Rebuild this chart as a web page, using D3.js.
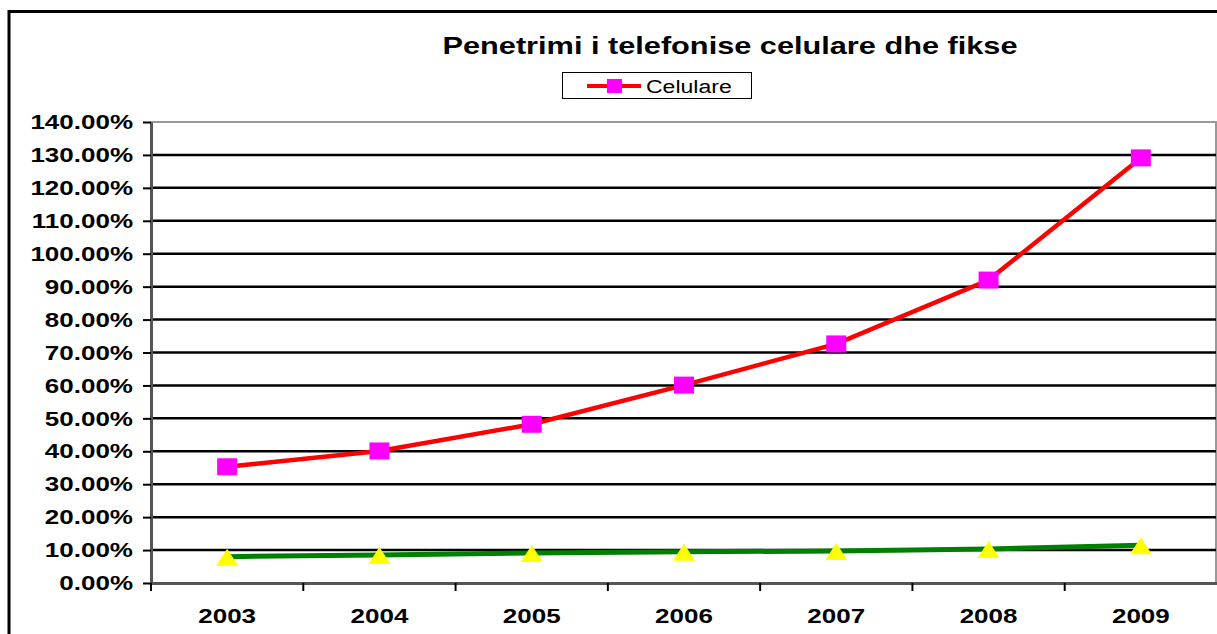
<!DOCTYPE html>
<html>
 <head>
    <title>Penetrimi i telefonise</title>
    <script src="https://d3js.org/d3.v7.min.js"></script>
    <style>
      body { margin: 0; background: #fff; }
      text { font-family: "Liberation Sans", Arial, sans-serif; fill: #000; }
    </style>
 </head>
 <body>
    <div id="chart"></div>
    <script>
      // data
      var years = ["2003", "2004", "2005", "2006", "2007", "2008", "2009"];
      var celulare = [35.3, 40.1, 48.2, 60.1, 72.6, 92.0, 129.1];
      var fikse = [8.0, 8.5, 9.1, 9.5, 9.7, 10.3, 11.5];
      var yTicks = [0, 10, 20, 30, 40, 50, 60, 70, 80, 90, 100, 110, 120, 130, 140];
      var title = "Penetrimi i telefonise celulare dhe fikse";
      var legendLabel = "Celulare";

      var width = 1217, height = 634;
      var plotLeft = 151, plotRight = 1217, plotTop = 122, plotBottom = 583;
      var stretch = 1.3; // the original text is wider than normal

      var svg = d3.select("#chart").append("svg")
        .attr("width", width)
        .attr("height", height);

      var x = d3.scaleBand().domain(years).range([plotLeft, plotRight]);
      var y = d3.scaleLinear().domain([0, 140]).range([plotBottom, plotTop]);

      // outer frame (only top and left show)
      svg.append("path")
        .attr("d", "M9," + height + "V11.5H" + width)
        .attr("fill", "none")
        .attr("stroke", "#000")
        .attr("stroke-width", 3);

      // plot frame
      svg.append("path")
        .attr("d", "M" + plotLeft + "," + plotTop + "H" + (plotRight - 1) + "V" + plotBottom)
        .attr("fill", "none")
        .attr("stroke", "#999")
        .attr("stroke-width", 2);

      // gridlines
      svg.selectAll(".grid")
        .data(yTicks.filter(function (d) { return d > 0 && d < 140; }))
        .enter().append("line")
        .attr("x1", plotLeft).attr("x2", plotRight - 1)
        .attr("y1", function (d) { return y(d); })
        .attr("y2", function (d) { return y(d); })
        .attr("stroke", "#000")
        .attr("stroke-width", 2.5);

      // y axis
      var yAxis = svg.append("g")
        .attr("transform", "translate(" + plotLeft + ",0)")
        .call(d3.axisLeft(y).tickValues(yTicks).tickSize(8).tickSizeOuter(0).tickFormat(""));
      yAxis.select(".domain").attr("stroke", "#555").attr("stroke-width", 3);
      yAxis.selectAll(".tick line").attr("stroke", "#000").attr("stroke-width", 2);

      svg.selectAll(".ylab")
        .data(yTicks)
        .enter().append("text")
        .attr("transform", function (d) {
          return "translate(133," + y(d) + ") scale(" + stretch + ",1)";
        })
        .attr("dy", "0.36em")
        .attr("text-anchor", "end")
        .style("font-size", "20px")
        .style("font-weight", "bold")
        .text(function (d) { return d.toFixed(2) + "%"; });

      // x axis
      var xAxis = svg.append("g")
        .attr("transform", "translate(0," + plotBottom + ")")
        .call(d3.axisBottom(x).tickSize(0).tickFormat(""));
      xAxis.select(".domain").attr("stroke", "#555").attr("stroke-width", 3);

      svg.selectAll(".xtick")
        .data(years)
        .enter().append("line")
        .attr("x1", function (d) { return x(d); })
        .attr("x2", function (d) { return x(d); })
        .attr("y1", plotBottom).attr("y2", plotBottom + 8)
        .attr("stroke", "#000")
        .attr("stroke-width", 2);

      svg.selectAll(".xlab")
        .data(years)
        .enter().append("text")
        .attr("transform", function (d) {
          return "translate(" + (x(d) + x.bandwidth() / 2) + ",623) scale(" + stretch + ",1)";
        })
        .attr("text-anchor", "middle")
        .style("font-size", "20px")
        .style("font-weight", "bold")
        .text(function (d) { return d; });

      var cx = function (d, i) { return x(years[i]) + x.bandwidth() / 2; };

      // fikse series
      var lineF = d3.line()
        .x(function (d, i) { return cx(d, i); })
        .y(function (d) { return y(d); });
      svg.append("path")
        .datum(fikse)
        .attr("d", lineF)
        .attr("fill", "none")
        .attr("stroke", "#008000")
        .attr("stroke-width", 5);
      svg.selectAll(".tri")
        .data(fikse)
        .enter().append("path")
        .attr("d", "M0,-8L11,9L-11,9Z")
        .attr("transform", function (d, i) { return "translate(" + cx(d, i) + "," + y(d) + ")"; })
        .attr("fill", "#ffff00");

      // celulare series
      var lineC = d3.line()
        .x(function (d, i) { return cx(d, i); })
        .y(function (d) { return y(d); });
      svg.append("path")
        .datum(celulare)
        .attr("d", lineC)
        .attr("fill", "none")
        .attr("stroke", "#ff0000")
        .attr("stroke-width", 4.5);
      svg.selectAll(".sq")
        .data(celulare)
        .enter().append("rect")
        .attr("x", function (d, i) { return cx(d, i) - 10; })
        .attr("y", function (d) { return y(d) - 8.5; })
        .attr("width", 20)
        .attr("height", 17)
        .attr("fill", "#ff00ff");

      // title
      svg.append("text")
        .attr("transform", "translate(730,54) scale(1.28,1)")
        .attr("text-anchor", "middle")
        .style("font-size", "24px")
        .style("font-weight", "bold")
        .text(title);

      // legend
      var legend = svg.append("g");
      legend.append("rect")
        .attr("x", 562.5).attr("y", 72.5)
        .attr("width", 189).attr("height", 26)
        .attr("fill", "#fff")
        .attr("stroke", "#000")
        .attr("stroke-width", 1);
      legend.append("line")
        .attr("x1", 587).attr("x2", 641)
        .attr("y1", 86).attr("y2", 86)
        .attr("stroke", "#ff0000")
        .attr("stroke-width", 4);
      legend.append("rect")
        .attr("x", 607).attr("y", 79)
        .attr("width", 15).attr("height", 14)
        .attr("fill", "#ff00ff");
      legend.append("text")
        .attr("transform", "translate(646,92.5) scale(1.28,1)")
        .style("font-size", "18px")
        .text(legendLabel);
    </script>
 </body>
</html>
